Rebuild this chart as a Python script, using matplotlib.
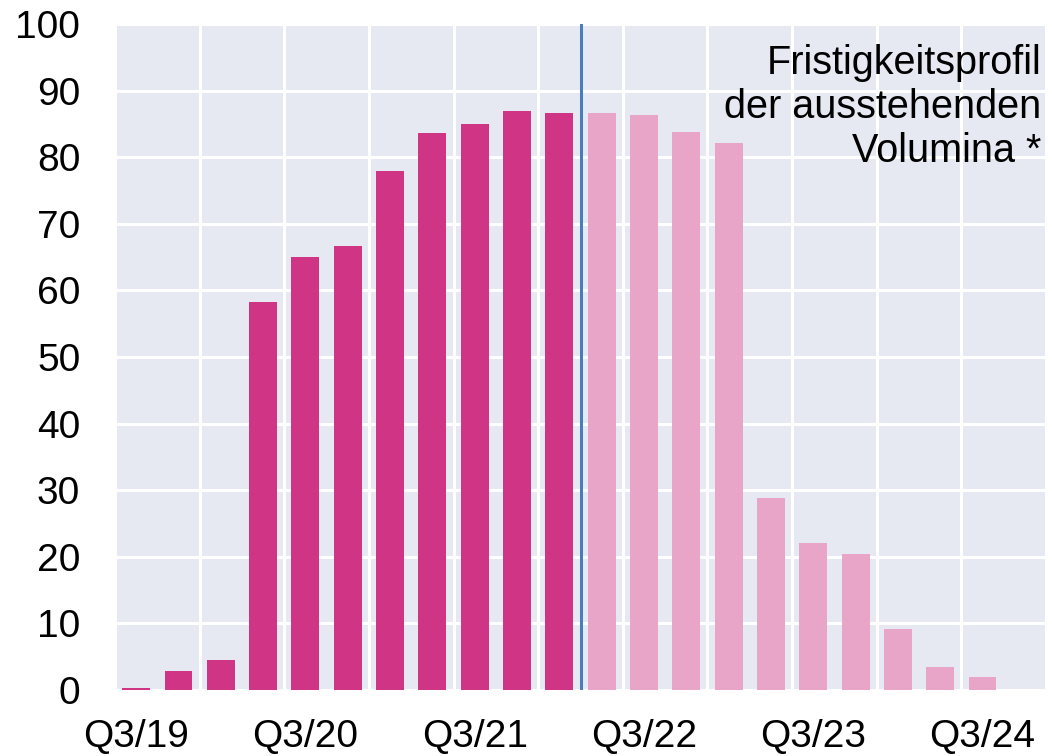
import matplotlib.pyplot as plt

plt.rcParams['font.family'] = ['Liberation Sans', 'DejaVu Sans']

# Quarters from Q3/19 onward, 22 bars
labels = ["Q3/19", "Q4/19", "Q1/20", "Q2/20", "Q3/20", "Q4/20", "Q1/21", "Q2/21",
          "Q3/21", "Q4/21", "Q1/22", "Q2/22", "Q3/22", "Q4/22", "Q1/23", "Q2/23",
          "Q3/23", "Q4/23", "Q1/24", "Q2/24", "Q3/24", "Q4/24"]
actual = [0.3, 2.8, 4.5, 58.2, 65.0, 66.7, 78.0, 83.7, 85.0, 87.0, 86.7]
profile = [86.7, 86.4, 83.8, 82.2, 28.8, 22.0, 20.4, 9.1, 3.5, 2.0, 0.0]
tick_labels = ["Q3/19", "Q3/20", "Q3/21", "Q3/22", "Q3/23", "Q3/24"]

fig = plt.figure(figsize=(10.48, 7.56), dpi=100)
ax = fig.add_axes([115/1048, 1 - 690/756, 931/1048, 666/756])
ax.set_facecolor("#E6E9F1")

n_act = len(actual)
x_act = list(range(n_act))
x_prof = list(range(n_act, n_act + len(profile)))
ax.bar(x_act, actual, width=0.66, color="#CF3584", zorder=3)
ax.bar(x_prof, profile, width=0.66, color="#E8A5C8", zorder=3)

# split line between history and maturity profile
ax.axvline(n_act - 0.5, color="#4A7EBB", lw=2.2, zorder=4)

ax.set_xlim(-0.5, len(labels) - 0.5)
ax.set_ylim(0, 100)
ax.set_yticks(range(0, 101, 10))

ticks = [labels.index(t) for t in tick_labels]
ax.set_xticks(ticks)
ax.set_xticklabels(tick_labels)
ax.set_xticks([i - 0.5 for i in range(0, len(labels) + 1, 2)], minor=True)

ax.grid(axis="y", color="white", lw=2.2, zorder=1)
ax.grid(axis="x", which="minor", color="white", lw=2.2, zorder=1)
ax.grid(axis="x", which="major", visible=False)

ax.tick_params(axis="both", which="both", length=0, labelsize=28, colors="black")
ax.tick_params(axis="y", pad=25)
ax.tick_params(axis="x", pad=21)
for lab in ax.get_yticklabels():
    lab.set_horizontalalignment("right")
for s in ax.spines.values():
    s.set_visible(False)

ax.text(0.995, 0.97, "Fristigkeitsprofil\nder ausstehenden\nVolumina *",
        transform=ax.transAxes, ha="right", va="top", fontsize=28.5,
        linespacing=1.2, zorder=5)

fig.savefig("out.png", dpi=100)
